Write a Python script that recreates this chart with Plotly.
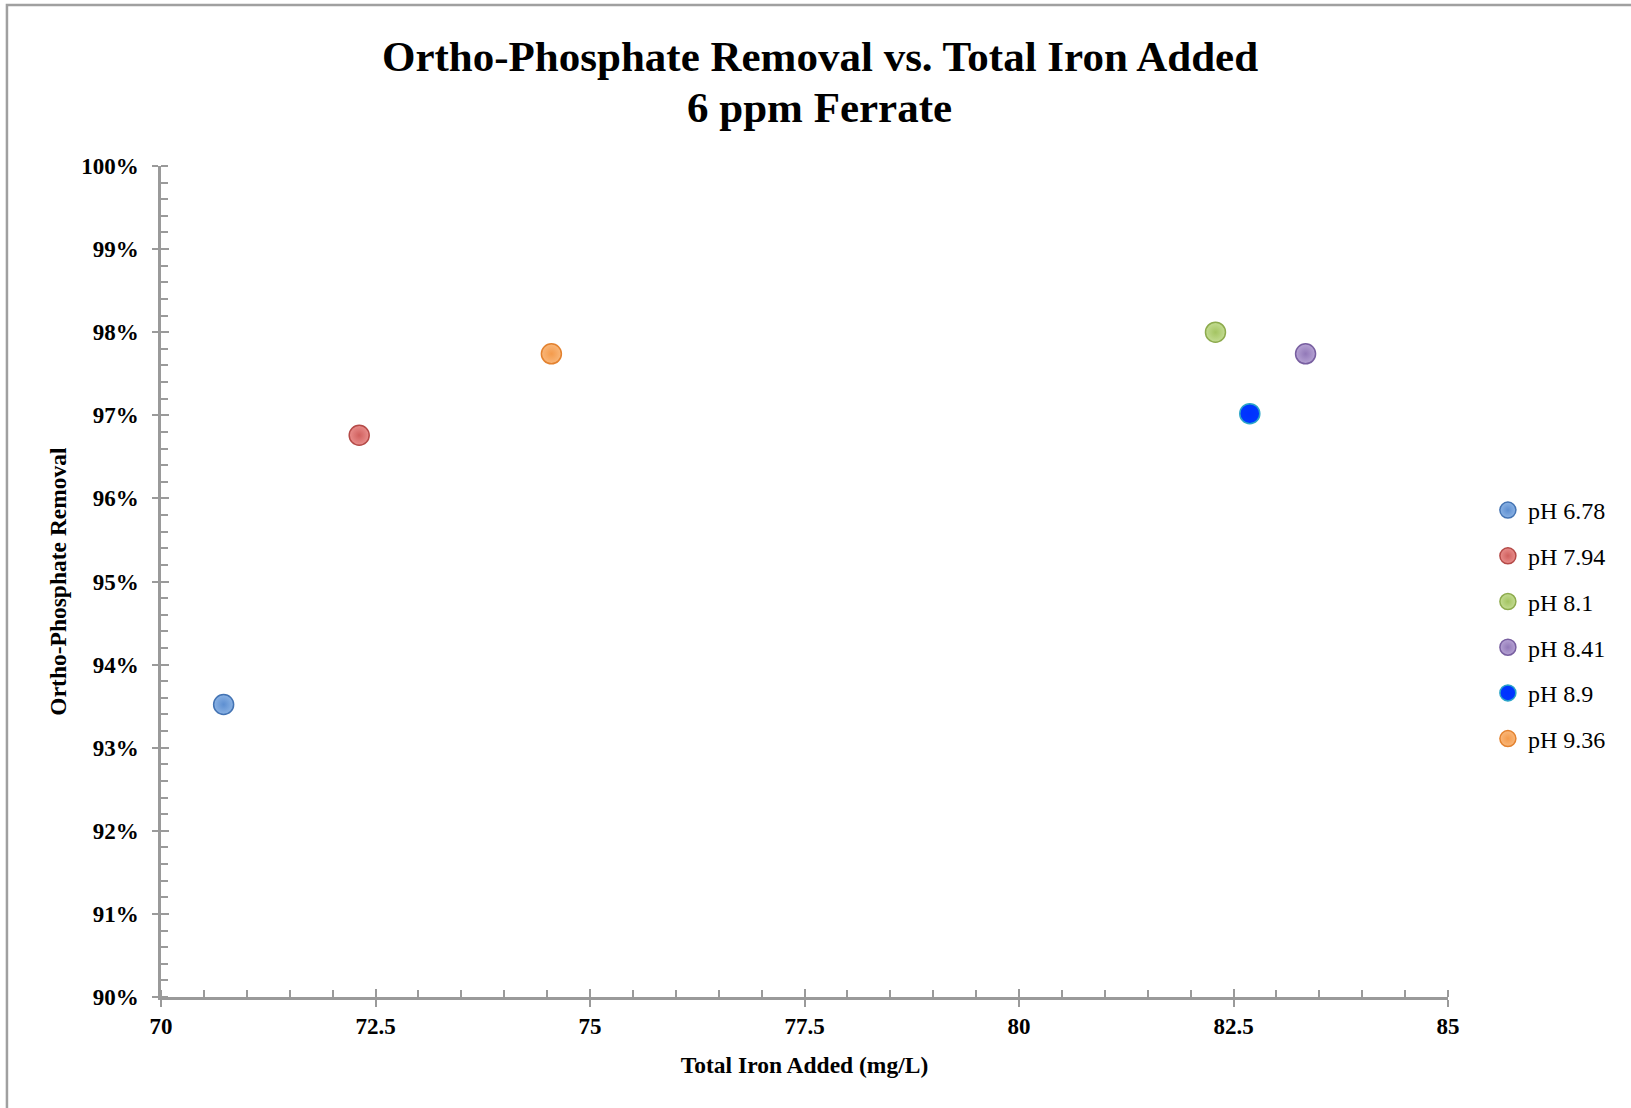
import plotly.graph_objects as go

# Sample labels and measurements
ph_labels = ["pH 6.78", "pH 7.94", "pH 8.1", "pH 8.41", "pH 8.9", "pH 9.36"]
total_iron = [70.73, 72.31, 82.29, 83.34, 82.69, 74.55]          # mg/L
ortho_p_removal = [0.9352, 0.9676, 0.9800, 0.9774, 0.9702, 0.9774]  # fraction removed

title_lines = ["Ortho-Phosphate Removal vs. Total Iron Added", "6 ppm Ferrate"]

# Marker styling per series: (centre tint, body colour, rim colour)
series_colors = [
    ("#8AB2E4", "#5E8FD1", "#4373B3"),
    ("#E98E8C", "#D0605E", "#B44A47"),
    ("#C3DC92", "#A4C462", "#8DAB4D"),
    ("#B6A3D4", "#9279B8", "#785FA0"),
    ("#0038FF", "#0030FF", "#2AA5C8"),
    ("#F9B77A", "#F49B4C", "#E3822F"),
]

SERIF = "Liberation Serif"

fig = go.Figure()
for i, (label, xv, yv) in enumerate(zip(ph_labels, total_iron, ortho_p_removal)):
    tint, body, rim = series_colors[i]
    fig.add_trace(go.Scatter(
        x=[xv], y=[yv], mode="markers", name=label,
        legendgroup=label,
        marker=dict(size=20, color=tint,
                    gradient=dict(type="radial", color=body),
                    line=dict(color=rim, width=1.5)),
    ))

# Invisible trace on overlay axes so the inner half of the crossing major ticks is drawn
fig.add_trace(go.Scatter(x=[None], y=[None], xaxis="x2", yaxis="y2",
                         showlegend=False, hoverinfo="skip"))

axis_grey = "#9A9A9A"
tick_font = dict(family=SERIF, size=23, color="black", weight="bold")

fig.update_layout(
    width=1631, height=1108,
    paper_bgcolor="white", plot_bgcolor="white",
    margin=dict(l=161, r=183, t=166, b=111),
    xaxis=dict(
        range=[70, 85], dtick=2.5, tick0=70,
        showgrid=False, zeroline=False,
        showline=True, linecolor=axis_grey, linewidth=2.5,
        ticks="outside", ticklen=7, tickwidth=2, tickcolor=axis_grey,
        minor=dict(dtick=0.5, ticks="inside", ticklen=7, tickwidth=2, tickcolor=axis_grey),
        tickfont=tick_font, ticklabelstandoff=0,
        title=dict(text="Total Iron Added (mg/L)",
                   font=dict(family=SERIF, size=23.5, color="black", weight="bold"),
                   standoff=19),
    ),
    yaxis=dict(
        range=[0.90, 1.00], dtick=0.01, tick0=0.90, tickformat=".0%",
        showgrid=False, zeroline=False,
        showline=True, linecolor=axis_grey, linewidth=2.5,
        ticks="outside", ticklen=6, tickwidth=2, tickcolor=axis_grey,
        minor=dict(dtick=0.002, ticks="inside", ticklen=7, tickwidth=2, tickcolor=axis_grey),
        tickfont=tick_font, ticklabelstandoff=9,
        title=dict(text="Ortho-Phosphate Removal",
                   font=dict(family=SERIF, size=23.5, color="black", weight="bold"),
                   standoff=8),
    ),
    xaxis2=dict(overlaying="x", matches="x", range=[70, 85], dtick=2.5, tick0=70,
                showgrid=False, zeroline=False, showline=False, showticklabels=False,
                ticks="inside", ticklen=8, tickwidth=2, tickcolor=axis_grey),
    yaxis2=dict(overlaying="y", matches="y", range=[0.90, 1.00], dtick=0.01, tick0=0.90,
                showgrid=False, zeroline=False, showline=False, showticklabels=False,
                ticks="inside", ticklen=8, tickwidth=2, tickcolor=axis_grey),
    legend=dict(
        x=1.031, xanchor="left", y=0.6125, yanchor="top",
        font=dict(family=SERIF, size=24, color="black"),
        tracegroupgap=11.5, itemsizing="trace",
        bgcolor="rgba(0,0,0,0)",
    ),
    showlegend=True,
)

# Two-line chart title
title_font = dict(family=SERIF, size=43, color="black", weight="bold")
for line_text, y_pos in zip(title_lines, [1.1312, 1.0698]):
    fig.add_annotation(text=line_text, xref="paper", yref="paper",
                       x=0.512, y=y_pos, xanchor="center", yanchor="middle",
                       showarrow=False, font=title_font)

# Outer chart frame (top and left edges sit inside the page)
fig.add_shape(type="rect", xref="paper", yref="paper",
              x0=-0.1197, x1=1.3, y0=-0.3, y1=1.1937,
              line=dict(color="#A0A0A0", width=2.5), layer="below")

fig.write_html("out.html")
